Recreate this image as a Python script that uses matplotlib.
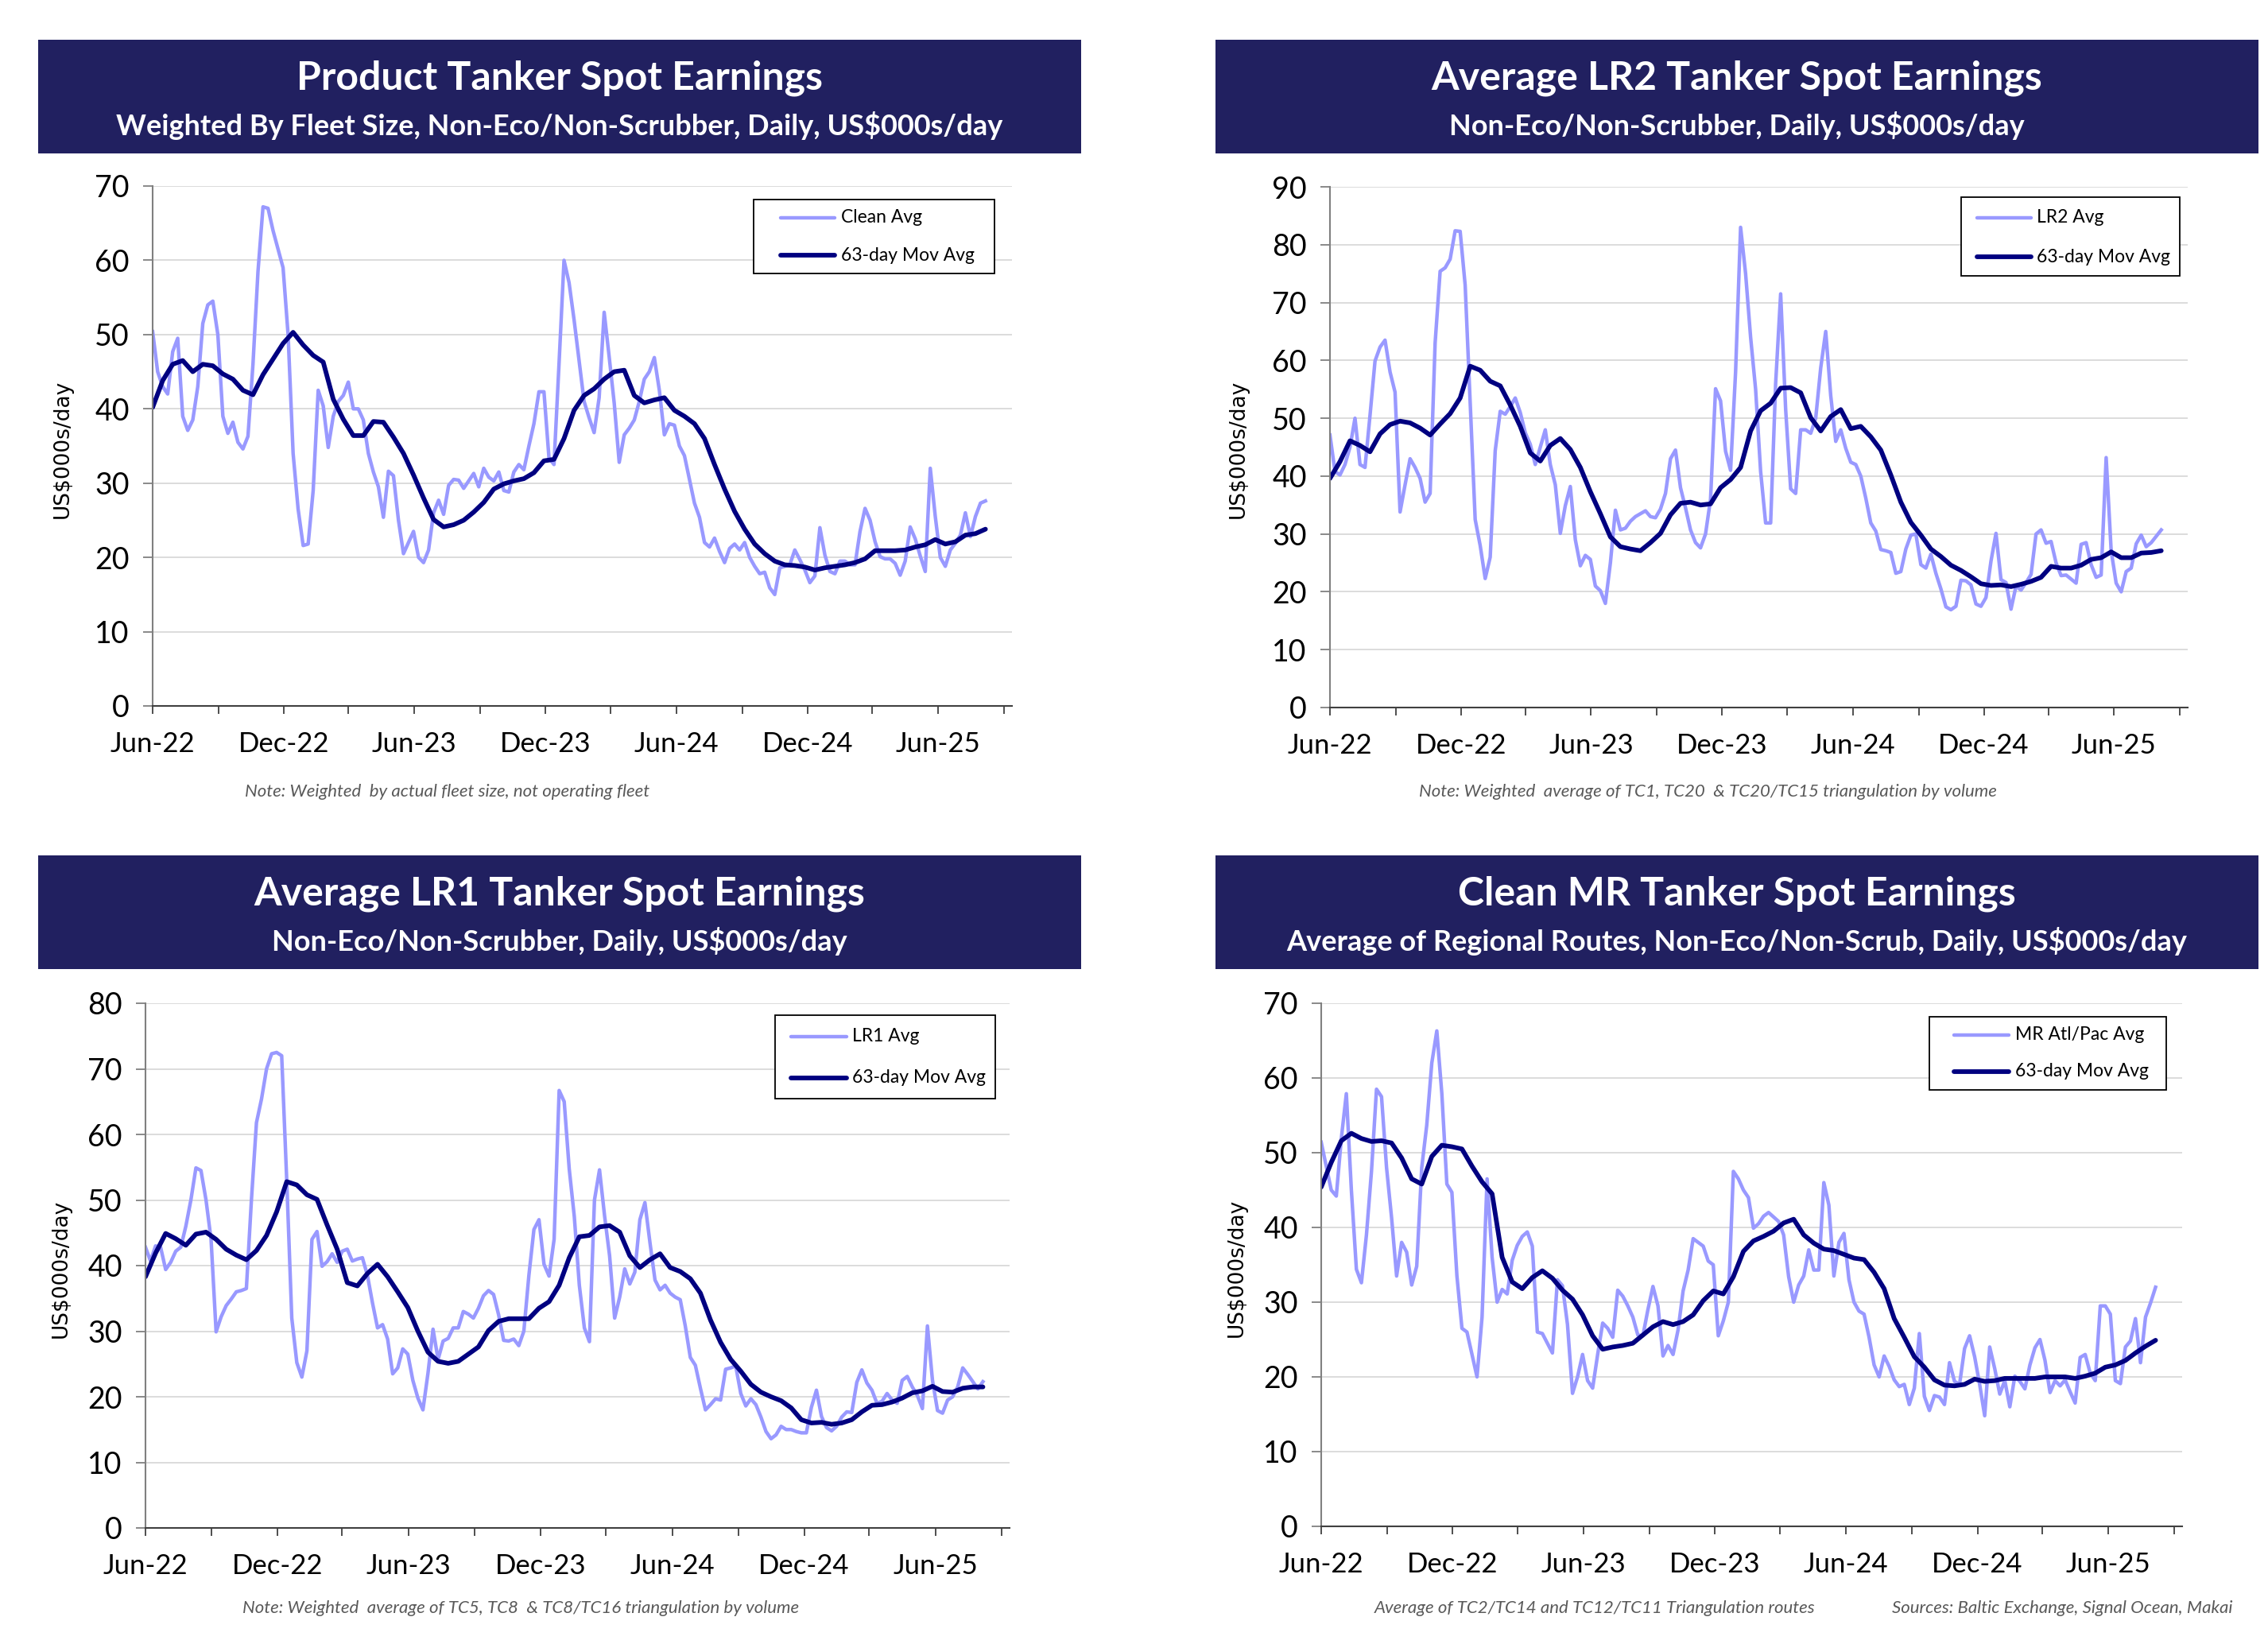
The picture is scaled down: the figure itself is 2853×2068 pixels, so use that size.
import matplotlib
matplotlib.use("Agg")
import matplotlib.pyplot as plt
import matplotlib.dates as mdates
from matplotlib.lines import Line2D
from matplotlib.patches import Rectangle
import pandas as pd

# ---------------------------------------------------------------------------
# Figure geometry (pixels of the 2853 x 2068 output)
# ---------------------------------------------------------------------------
W, H = 2853, 2068
NAVY_HEAD = "#212060"
COL_AVG = "#9999FF"
COL_MOV = "#000080"
COL_GRID = "#D9D9D9"
COL_NOTE = "#595959"
LW_AVG = 3.2
LW_MOV = 4.2

plt.rcParams["font.family"] = ["Lato", "DejaVu Sans"]

# ---------------------------------------------------------------------------
# Data: weekly samples of the daily series, fortnightly samples of the 63-day MA
# ---------------------------------------------------------------------------
week_dates = pd.date_range("2022-06-01", periods=167, freq="7D")
mov_dates = pd.date_range("2022-06-01", periods=84, freq="14D")

clean_avg = [
    50.4, 45, 43, 42, 47.7, 49.5, 39, 37.1, 38.5, 43,
    51.5, 54, 54.5, 50, 39, 36.7, 38.2, 35.5, 34.6, 36.3,
    46, 58.5, 67.2, 67, 64, 61.5, 59, 50, 34, 26.5,
    21.6, 21.8, 29, 42.5, 40.4, 34.8, 39, 41, 41.8, 43.6,
    40, 40, 38.5, 34, 31.5, 29.5, 25.4, 31.6, 31, 25,
    20.5, 22, 23.5, 20, 19.3, 21, 26, 27.7, 25.8, 29.7,
    30.5, 30.4, 29.3, 30.3, 31.3, 29.5, 32, 30.8, 30.3, 31.5,
    29, 28.8, 31.5, 32.5, 31.8, 35, 38, 42.3, 42.3, 33.4,
    32.5, 46, 60, 57, 52, 46.5, 41, 38.8, 36.8, 41.5,
    53, 47, 40.8, 32.8, 36.5, 37.4, 38.5, 41, 44, 45,
    46.9, 42.5, 36.5, 38, 37.8, 35, 33.7, 30.5, 27.3, 25.4,
    22, 21.4, 22.6, 20.8, 19.3, 21.2, 21.8, 21, 22, 20,
    18.8, 17.8, 18, 15.9, 15, 18.6, 18.8, 19, 21, 19.7,
    18.3, 16.6, 17.5, 24, 20.3, 18.1, 17.8, 19.5, 19.5, 19,
    19, 23.5, 26.6, 25, 22.1, 20.1, 19.8, 19.8, 19.2, 17.6,
    19.5, 24.1, 22.5, 20.2, 18.1, 32, 25.5, 20, 18.8, 21,
    21.9, 23, 26, 22.8, 25.5, 27.3, 27.6,
]
clean_mov = [
    40.2, 43.8, 46, 46.5, 45, 46, 45.8, 44.7, 44, 42.5,
    41.9, 44.6, 46.7, 48.8, 50.3, 48.6, 47.2, 46.3, 41.3, 38.6,
    36.4, 36.4, 38.3, 38.2, 36.2, 34, 31.1, 28, 25.1, 24.1,
    24.4, 25, 26.1, 27.4, 29.2, 29.9, 30.3, 30.6, 31.4, 33,
    33.2, 36, 39.8, 41.8, 42.7, 44.0, 45, 45.2, 41.8, 40.8,
    41.2, 41.5, 39.8, 39, 38, 36, 32.5, 29.2, 26.2, 23.8,
    21.8, 20.5, 19.5, 19, 18.9, 18.7, 18.3, 18.6, 18.8, 19,
    19.3, 19.8, 20.9, 20.9, 20.9, 21, 21.4, 21.7, 22.4, 21.8,
    22.1, 23, 23.2, 23.8,
]

lr2_avg = [
    47.1, 40.8, 40.2, 42, 45, 50, 42, 41.5, 50.5, 59.9,
    62.3, 63.5, 58, 54.5, 33.8, 38.5, 43, 41.5, 39.6, 35.5,
    37, 63, 75.4, 76, 77.5, 82.4, 82.3, 73, 52.7, 32.5,
    28, 22.3, 26, 44.4, 51.2, 50.7, 52, 53.5, 51, 47.5,
    45.5, 42, 45, 48, 42, 38.5, 30.1, 34.9, 38.2, 29,
    24.5, 26.3, 25.6, 21, 20.2, 18, 25, 34.1, 30.7, 31,
    32.2, 33, 33.5, 34, 33, 32.8, 34.3, 37, 43, 44.5,
    38, 34.5, 30.7, 28.5, 27.6, 30, 36, 55.1, 53, 44.3,
    41, 58, 83, 75, 64, 55, 40.8, 31.9, 31.9, 56,
    71.5, 51.5, 37.8, 37, 48, 48, 47.4, 50, 58.7, 65,
    53.9, 46, 48, 44.8, 42.4, 42, 40, 36.2, 31.9, 30.5,
    27.3, 27.1, 26.8, 23.2, 23.5, 27.4, 29.8, 30, 24.7, 24.1,
    26.5, 23.2, 20.5, 17.4, 16.9, 17.5, 22, 21.9, 21.2, 17.9,
    17.5, 19, 25.3, 30.1, 22.1, 21.6, 17, 21, 20.3, 21.6,
    23, 30, 30.7, 28.4, 28.7, 25, 22.8, 22.9, 22.2, 21.5,
    28.2, 28.5, 24.7, 22.5, 22.9, 43.2, 27.1, 21.5, 20, 23.5,
    24.1, 28.3, 29.8, 27.8, 28.5, 29.6, 30.7,
]
lr2_mov = [
    39.6, 42.5, 46.1, 45.3, 44.2, 47.3, 48.9, 49.5, 49.2, 48.3,
    47.1, 49, 50.8, 53.5, 59, 58.3, 56.4, 55.6, 52.3, 48.6,
    44, 42.6, 45.3, 46.5, 44.6, 41.5, 37.3, 33.5, 29.5, 27.8,
    27.4, 27.1, 28.5, 30.1, 33.3, 35.3, 35.5, 35, 35.2, 38,
    39.4, 41.5, 47.8, 51.3, 52.6, 55.2, 55.3, 54.4, 50.1, 47.8,
    50.3, 51.5, 48.2, 48.6, 46.8, 44.5, 40.2, 35.5, 32, 29.8,
    27.4, 26.1, 24.6, 23.7, 22.6, 21.4, 21.1, 21.2, 20.9, 21.3,
    21.8, 22.5, 24.4, 24.1, 24.1, 24.6, 25.6, 25.9, 26.9, 25.9,
    25.9, 26.7, 26.8, 27.1,
]

lr1_avg = [
    42.8, 40.7, 43, 42.8, 39.4, 40.5, 42.2, 42.8, 46, 50,
    54.9, 54.5, 50, 44, 29.9, 32.2, 33.9, 34.9, 36, 36.2,
    36.5, 50, 61.8, 65.4, 70, 72.3, 72.5, 72, 53, 32,
    25.2, 23, 27, 44, 45.2, 39.9, 40.6, 41.8, 40.5, 42.2,
    42.5, 40.7, 41, 41.2, 38.5, 34.3, 30.5, 31, 28.8, 23.5,
    24.4, 27.3, 26.5, 22.5, 19.8, 18, 23.6, 30.3, 25.7, 28.5,
    28.9, 30.5, 30.5, 33, 32.6, 32, 33.5, 35.4, 36.2, 35.6,
    32.5, 28.6, 28.5, 28.8, 27.8, 30, 38.5, 45.5, 47, 40.2,
    38.4, 44, 66.7, 65, 54.7, 47.5, 37, 30.5, 28.4, 50,
    54.6, 47.6, 41.5, 32, 35.2, 39.5, 37.2, 39, 47, 49.6,
    43.5, 37.8, 36.3, 37, 35.8, 35.2, 34.8, 30.8, 26, 24.8,
    21.3, 18, 18.8, 19.7, 19.5, 24.2, 24.4, 24.7, 20.5, 18.6,
    19.7, 18.8, 16.9, 14.7, 13.6, 14.2, 15.5, 15, 15, 14.7,
    14.5, 14.5, 18.4, 21, 17, 15.3, 14.8, 15.5, 16.9, 17.7,
    17.6, 22.2, 24.1, 22.1, 21, 19, 19.3, 20.5, 19.5, 19,
    22.5, 23.1, 21.5, 20.2, 18.2, 30.8, 22.5, 17.9, 17.5, 19.5,
    20, 21.5, 24.4, 23.4, 22.3, 21.2, 22.3,
]
lr1_mov = [
    38.3, 41.9, 44.9, 44.1, 43.1, 44.8, 45.1, 44, 42.5, 41.6,
    40.9, 42.3, 44.6, 48.2, 52.8, 52.3, 50.8, 50.1, 46.2, 42.5,
    37.4, 36.9, 38.8, 40.2, 38.3, 36, 33.6, 30, 26.8, 25.4,
    25.1, 25.4, 26.5, 27.6, 30.1, 31.5, 31.9, 31.9, 31.9, 33.5,
    34.5, 37, 41.2, 44.4, 44.6, 45.9, 46.1, 45.1, 41.5, 39.7,
    40.9, 41.8, 39.7, 39.1, 38, 35.8, 31.7, 28.3, 25.7, 23.9,
    21.9, 20.7, 20, 19.4, 18.3, 16.5, 16, 16.1, 15.8, 16,
    16.5, 17.7, 18.7, 18.8, 19.2, 19.8, 20.6, 20.9, 21.6, 20.8,
    20.7, 21.3, 21.5, 21.5,
]

mr_avg = [
    51.4, 48.2, 45, 44.2, 51.9, 57.9, 45, 34.4, 32.6, 39,
    47.5, 58.5, 57.5, 48, 41.3, 33.5, 38, 36.7, 32.3, 34.8,
    48, 53.7, 62, 66.3, 57.9, 45.8, 44.7, 33.5, 26.5, 26,
    23, 20, 28, 46.5, 36, 30, 31.7, 31.1, 35.6, 37.6,
    38.8, 39.4, 37.5, 26, 25.8, 24.5, 23.2, 33, 32.2, 27,
    17.8, 20, 23, 19.5, 18.5, 23, 27.2, 26.5, 25.3, 31.6,
    30.8, 29.5, 28, 25.6, 25.5, 29, 32.1, 29.5, 22.8, 24.2,
    23, 26.3, 31.5, 34.3, 38.5, 38, 37.5, 35.5, 35, 25.5,
    27.5, 30, 47.5, 46.5, 45, 44, 39.9, 40.5, 41.5, 42,
    41.4, 40.8, 39, 33.4, 30, 32.3, 33.5, 37, 34.3, 34.3,
    46, 43, 33.5, 38, 39.2, 33, 30, 28.8, 28.4, 25.3,
    21.6, 20, 22.8, 21.4, 19.6, 18.7, 19, 16.3, 18.5, 25.8,
    17.4, 15.5, 17.5, 17.3, 16.3, 21.9, 19.4, 19, 23.8, 25.5,
    22.7, 19, 14.8, 24, 21.1, 17.7, 19.5, 16, 20.1, 19.4,
    18.4, 21.6, 23.9, 25, 22.2, 17.9, 19.5, 18.8, 19.6, 18,
    16.5, 22.6, 23, 20.5, 19.5, 29.5, 29.5, 28.4, 19.5, 19.1,
    24, 24.8, 27.8, 21.9, 28, 29.9, 32,
]
mr_mov = [
    45.4, 48.7, 51.6, 52.6, 51.9, 51.5, 51.6, 51.3, 49.3, 46.5,
    45.8, 49.5, 51, 50.8, 50.5, 48.2, 46.1, 44.5, 36, 32.7,
    31.8, 33.3, 34.2, 33.2, 31.6, 30.4, 28.3, 25.5, 23.7, 24,
    24.2, 24.5, 25.6, 26.7, 27.4, 27, 27.4, 28.3, 30.2, 31.5,
    31.1, 33.4, 36.8, 38.2, 38.8, 39.5, 40.6, 41.1, 39, 37.9,
    37.1, 36.9, 36.4, 35.9, 35.7, 34, 31.8, 27.8, 25.3, 22.7,
    21.3, 19.6, 18.9, 18.8, 19, 19.7, 19.4, 19.5, 19.8, 19.8,
    19.8, 19.8, 20, 20, 20, 19.8, 20.1, 20.5, 21.3, 21.6,
    22.2, 23.2, 24.1, 24.9,
]

# ---------------------------------------------------------------------------
# Panel definitions (text + layout in output pixels)
# legend = (box_left, box_top, box_right, box_bottom, handle_l, handle_r, text_x, row1_y, row2_y)
# ---------------------------------------------------------------------------
PANELS = [
    dict(title="Product Tanker Spot Earnings",
         subtitle="Weighted By Fleet Size, Non-Eco/Non-Scrubber, Daily, US$000s/day",
         avg=clean_avg, mov=clean_mov, label="Clean Avg", ymax=70,
         header=(48, 50, 1360, 193), axes=(192, 234, 1273, 888),
         legend=(948, 251, 1251, 344, 982, 1050, 1058, 274, 321),
         ylab=(79, 565),
         notes=[("Note: Weighted  by actual fleet size, not operating fleet", 563, "center")],
         note_y=996),
    dict(title="Average LR2 Tanker Spot Earnings",
         subtitle="Non-Eco/Non-Scrubber, Daily, US$000s/day",
         avg=lr2_avg, mov=lr2_mov, label="LR2 Avg", ymax=90,
         header=(1529, 50, 2841, 193), axes=(1673, 235, 2752, 890),
         legend=(2467, 248, 2742, 347, 2487, 2555, 2562, 274, 323),
         ylab=(1558, 565),
         notes=[("Note: Weighted  average of TC1, TC20  & TC20/TC15 triangulation by volume", 2148, "center")],
         note_y=996),
    dict(title="Average LR1 Tanker Spot Earnings",
         subtitle="Non-Eco/Non-Scrubber, Daily, US$000s/day",
         avg=lr1_avg, mov=lr1_mov, label="LR1 Avg", ymax=80,
         header=(48, 1076, 1360, 1219), axes=(183, 1262, 1270, 1922),
         legend=(975, 1277, 1252, 1382, 995, 1065, 1072, 1304, 1356),
         ylab=(77, 1596),
         notes=[("Note: Weighted  average of TC5, TC8  & TC8/TC16 triangulation by volume", 655, "center")],
         note_y=2023),
    dict(title="Clean MR Tanker Spot Earnings",
         subtitle="Average of Regional Routes, Non-Eco/Non-Scrub, Daily, US$000s/day",
         avg=mr_avg, mov=mr_mov, label="MR Atl/Pac Avg", ymax=70,
         header=(1529, 1076, 2841, 1219), axes=(1662, 1262, 2745, 1920),
         legend=(2427, 1279, 2725, 1371, 2458, 2527, 2535, 1302, 1348),
         ylab=(1556, 1595),
         notes=[("Average of TC2/TC14 and TC12/TC11 Triangulation routes", 2006, "center"),
                ("Sources: Baltic Exchange, Signal Ocean, Makai", 2809, "right")],
         note_y=2023),
]


def fx(px):
    return px / W


def fy(py):
    return 1 - py / H


def draw_legend(fig, spec, label):
    bl, bt, br, bb, hl, hr, tx, r1, r2 = spec
    fig.add_artist(Rectangle((fx(bl), fy(bb)), fx(br) - fx(bl), (bb - bt) / H,
                             transform=fig.transFigure, facecolor="white",
                             edgecolor="black", linewidth=1.3, zorder=5))
    for row_y, text, col, lw in ((r1, label, COL_AVG, LW_AVG),
                                 (r2, "63-day Mov Avg", COL_MOV, LW_MOV)):
        fig.add_artist(Line2D([fx(hl), fx(hr)], [fy(row_y), fy(row_y)],
                              transform=fig.transFigure, color=col, lw=lw,
                              solid_capstyle="round", zorder=6))
        fig.text(fx(tx), fy(row_y), text, ha="left", va="center",
                 fontsize=16.5, zorder=6)


def draw_panel(fig, p):
    # --- header band ---
    x0, y0, x1, y1 = p["header"]
    fig.add_artist(Rectangle((fx(x0), fy(y1)), fx(x1) - fx(x0), (y1 - y0) / H,
                             transform=fig.transFigure, facecolor=NAVY_HEAD,
                             edgecolor="none"))
    cx = (x0 + x1) / 2
    fig.text(fx(cx), fy(y0 + 48), p["title"], ha="center", va="center",
             color="white", fontsize=36, fontweight="bold")
    fig.text(fx(cx), fy(y0 + 108), p["subtitle"], ha="center", va="center",
             color="white", fontsize=26, fontweight="bold")

    # --- plot area ---
    l, t, r, b = p["axes"]
    ax = fig.add_axes([fx(l), fy(b), fx(r) - fx(l), (b - t) / H])
    ax.plot(week_dates, p["avg"], color=COL_AVG, lw=LW_AVG,
            solid_joinstyle="round")
    ax.plot(mov_dates, p["mov"], color=COL_MOV, lw=LW_MOV,
            solid_joinstyle="round", solid_capstyle="round")

    ax.set_ylim(0, p["ymax"])
    ax.set_yticks(range(0, p["ymax"] + 1, 10))
    ax.set_xlim(pd.Timestamp("2022-06-01"), pd.Timestamp("2025-09-12"))
    ax.xaxis.set_major_locator(mdates.MonthLocator(bymonth=[6, 12]))
    ax.xaxis.set_major_formatter(mdates.DateFormatter("%b-%y"))
    ax.xaxis.set_minor_locator(mdates.MonthLocator(bymonth=[3, 9]))

    ax.tick_params(axis="x", which="both", direction="out", length=7,
                   width=1.3, color="#404040", labelsize=25, pad=16)
    ax.tick_params(axis="y", direction="out", length=9, width=1.3,
                   color="#808080", labelsize=27, pad=12)
    ax.grid(axis="y", color=COL_GRID, lw=1.3)
    ax.set_axisbelow(True)
    ax.spines[["top", "right"]].set_visible(False)
    ax.spines["left"].set_color("#808080")
    ax.spines["left"].set_linewidth(1.5)
    ax.spines["bottom"].set_color("#404040")
    ax.spines["bottom"].set_linewidth(1.5)

    draw_legend(fig, p["legend"], p["label"])

    # --- y label + notes ---
    yx, yy = p["ylab"]
    fig.text(fx(yx), fy(yy), "US$000s/day", rotation=90, ha="center",
             va="center", fontsize=19, family="DejaVu Sans")
    for text, nx, ha in p["notes"]:
        fig.text(fx(nx), fy(p["note_y"]), text, ha=ha, va="center",
                 fontsize=16, style="italic", color=COL_NOTE)
    return ax


fig = plt.figure(figsize=(W / 100, H / 100), dpi=100)
fig.patch.set_facecolor("white")
for panel in PANELS:
    draw_panel(fig, panel)

fig.savefig("out.png", dpi=100)
